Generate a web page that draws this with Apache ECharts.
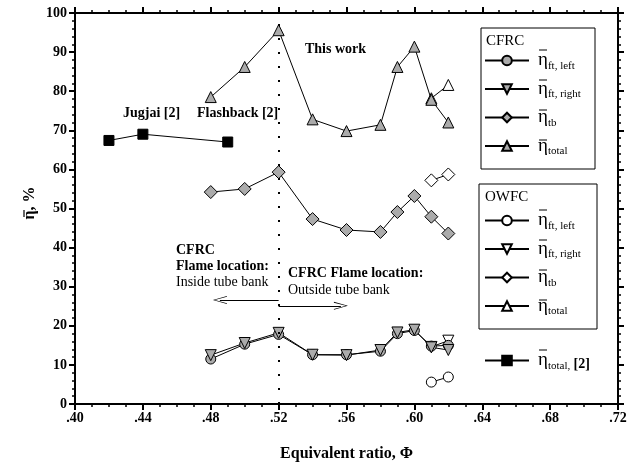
<!DOCTYPE html>
<html>
<head>
<meta charset="utf-8">
<script src="https://cdn.jsdelivr.net/npm/echarts@6/dist/echarts.min.js"></script>
<style>
  html, body { margin: 0; padding: 0; background: #fff; }
  #chart { width: 638px; height: 470px; }
</style>
</head>
<body>
<div id="chart"></div>
<script>
const phiCFRC = [0.48, 0.50, 0.52, 0.54, 0.56, 0.58, 0.59, 0.60, 0.61, 0.62];
const cfrcLeft = [11.5, 15.3, 17.8, 12.6, 12.6, 13.5, 18.0, 18.8, 14.8, 15.0];
const cfrcRight = [12.5, 15.6, 18.2, 12.6, 12.5, 13.8, 18.3, 19.0, 14.5, 13.8];
const cfrcTb = [54.2, 55.0, 59.3, 47.3, 44.5, 44.0, 49.1, 53.2, 47.9, 43.6];
const cfrcTotal = [78.5, 86.2, 95.6, 72.8, 69.8, 71.4, 86.2, 91.4, 77.8, 72.0];

const phiOWFC = [0.61, 0.62];
const owfcLeft = [5.6, 6.9];
const owfcRight = [14.6, 16.2];
const owfcTb = [57.2, 58.7];
const owfcTotal = [78.2, 81.6];

const phiRef = [0.42, 0.44, 0.49];
const refTotal = [67.4, 69.0, 67.0];

const xTicks = [".40", ".44", ".48", ".52", ".56", ".60", ".64", ".68", ".72"];

const SERIF = "Liberation Serif";
const GREY = "#ababab";

const subLabels = {
  CFRC_left: "ft, left", CFRC_right: "ft, right", CFRC_tb: "tb", CFRC_total: "total",
  OWFC_left: "ft, left", OWFC_right: "ft, right", OWFC_tb: "tb", OWFC_total: "total",
};

function pairs(xs, ys) {
  return xs.map((x, i) => [x, ys[i]]);
}

function lineSeries(name, xs, ys, symbol, fill, size, rotate) {
  return {
    name,
    type: "line",
    data: pairs(xs, ys),
    symbol,
    symbolSize: size,
    symbolRotate: rotate || 0,
    showAllSymbol: true,
    lineStyle: { color: "#000", width: 1 },
    itemStyle: { color: fill, borderColor: "#000", borderWidth: 1 },
    emphasis: { disabled: true },
    z: fill === "#fff" ? 2 : 3,
  };
}

const arrowHead = "path://M0,14 L5,0 L10,14 L9,14 L5,2 L1,14 Z";

const chart = echarts.init(document.getElementById("chart"), null, { renderer: "canvas" });

const legendRich = {
  e: { fontFamily: SERIF, fontSize: 19, lineHeight: 22, color: "#000" },
  s: { fontFamily: SERIF, fontSize: 11, lineHeight: 11, verticalAlign: "bottom", color: "#000" },
  b: { fontFamily: SERIF, fontSize: 14, fontWeight: "bold", lineHeight: 11, verticalAlign: "bottom", color: "#000" },
};

const LEGEND_ROW = 30;

function legendBlock(names, top) {
  return {
    data: names,
    orient: "vertical",
    left: 484,
    top,
    padding: 0,
    itemWidth: 44,
    itemHeight: 12,
    itemGap: 8,
    selectedMode: false,
    formatter: (name) => {
      if (name === "Ref") return "{e|\u03B7}{s|total,} {b|[2]}";
      return `{e|\u03B7}{s|${subLabels[name]}}`;
    },
    textStyle: { padding: [0, 0, 0, 4], rich: legendRich },
  };
}

// overbar above each legend eta
function etaBars(firstCenter, count) {
  const out = [];
  for (let i = 0; i < count; i++) {
    const y = firstCenter + i * LEGEND_ROW - 11;
    out.push({ type: "line", shape: { x1: 539, y1: y, x2: 547, y2: y }, style: { stroke: "#000", lineWidth: 1 } });
  }
  return out;
}

const tickLine = { color: "#000", width: 2 };
const minorLine = { color: "#000", width: 1.5 };

// ticks drawn on all four sides (inside ticks do not render here, so they point outward)
function frameAxis(position, min, max, interval, minorSplit, extra) {
  return {
    type: "value", min, max, interval, position,
    axisLine: { show: true, onZero: false, lineStyle: tickLine },
    axisTick: { show: true, length: 6, lineStyle: tickLine },
    minorTick: { show: true, splitNumber: minorSplit, length: 3, lineStyle: minorLine },
    axisLabel: { show: false },
    splitLine: { show: false },
    ...extra,
  };
}

const textStyleBold = { fontFamily: SERIF, fontWeight: "bold", fontSize: 14, fill: "#000" };
const textStylePlain = { fontFamily: SERIF, fontSize: 14, fill: "#000" };

chart.setOption({
  animation: false,
  backgroundColor: "#fff",
  grid: { left: 75, right: 20, top: 13, bottom: 66 },
  xAxis: [
    frameAxis("bottom", 0.40, 0.72, 0.04, 4, {
      axisLabel: {
        show: true,
        margin: 7,
        fontFamily: SERIF, fontWeight: "bold", fontSize: 14, color: "#000",
        formatter: (v) => xTicks[Math.round((v - 0.40) / 0.04)] || "",
      },
      name: "Equivalent ratio, \u03A6",
      nameLocation: "middle",
      nameGap: 42,
      nameTextStyle: { fontFamily: SERIF, fontWeight: "bold", fontSize: 16, color: "#000" },
    }),
    frameAxis("top", 0.40, 0.72, 0.04, 4, {}),
  ],
  yAxis: [
    frameAxis("left", 0, 100, 10, 5, {
      axisLabel: { show: true, margin: 8, fontFamily: SERIF, fontWeight: "bold", fontSize: 14, color: "#000" },
    }),
    frameAxis("right", 0, 100, 10, 5, {}),
  ],
  legend: [
    legendBlock(["CFRC_left", "CFRC_right", "CFRC_tb", "CFRC_total"], 51),
    legendBlock(["OWFC_left", "OWFC_right", "OWFC_tb", "OWFC_total"], 211),
    legendBlock(["Ref"], 351),
  ],
  series: [
    lineSeries("OWFC_left", phiOWFC, owfcLeft, "circle", "#fff", 10),
    lineSeries("OWFC_right", phiOWFC, owfcRight, "triangle", "#fff", 11, 180),
    lineSeries("OWFC_tb", phiOWFC, owfcTb, "diamond", "#fff", 13),
    lineSeries("OWFC_total", phiOWFC, owfcTotal, "triangle", "#fff", 11),
    lineSeries("CFRC_left", phiCFRC, cfrcLeft, "circle", GREY, 10),
    lineSeries("CFRC_right", phiCFRC, cfrcRight, "triangle", GREY, 11, 180),
    lineSeries("CFRC_tb", phiCFRC, cfrcTb, "diamond", GREY, 13),
    {
      ...lineSeries("CFRC_total", phiCFRC, cfrcTotal, "triangle", GREY, 11),
      markLine: {
        silent: true,
        symbol: ["none", "none"],
        label: { show: false },
        lineStyle: { color: "#000", width: 2, type: [2, 12] },
        data: [{ xAxis: 0.52 }],
      },
    },
    {
      ...lineSeries("Ref", phiRef, refTotal, "rect", "#000", 10),
      markLine: {
        silent: true,
        symbol: ["none", arrowHead],
        symbolSize: [8, 14],
        label: { show: false },
        lineStyle: { color: "#000", width: 1, type: "solid" },
        data: [
          [{ coord: [0.52, 26.6] }, { coord: [0.4854, 26.6] }],
          [{ coord: [0.52, 25.1] }, { coord: [0.5567, 25.1] }],
        ],
      },
    },
  ],
  graphic: [
    { type: "rect", shape: { x: 481, y: 28, width: 114, height: 141 }, style: { fill: "none", stroke: "#000", lineWidth: 1 } },
    { type: "rect", shape: { x: 479, y: 184, width: 118, height: 145 }, style: { fill: "none", stroke: "#000", lineWidth: 1 } },
    { type: "text", left: 486, top: 34, style: { text: "CFRC", fontFamily: SERIF, fontSize: 15, fill: "#000" } },
    { type: "text", left: 485, top: 190, style: { text: "OWFC", fontFamily: SERIF, fontSize: 15, fill: "#000" } },
    ...etaBars(61, 4),
    ...etaBars(221, 4),
    ...etaBars(361, 1),
    {
      type: "text", x: 30, y: 203, rotation: Math.PI / 2,
      style: { text: "\u03B7, %", fontFamily: SERIF, fontWeight: "bold", fontSize: 16, fill: "#000", align: "center", verticalAlign: "middle" },
    },
    { type: "line", shape: { x1: 24, y1: 210, x2: 24, y2: 217 }, style: { stroke: "#000", lineWidth: 1.2 } },
    { type: "text", left: 305, top: 42, style: { text: "This work", ...textStyleBold } },
    { type: "text", left: 123, top: 106, style: { text: "Jugjai [2]", ...textStyleBold } },
    { type: "text", left: 197, top: 106, style: { text: "Flashback [2]", ...textStyleBold } },
    { type: "text", left: 176, top: 243, style: { text: "CFRC", ...textStyleBold } },
    { type: "text", left: 176, top: 259, style: { text: "Flame location:", ...textStyleBold } },
    { type: "text", left: 176, top: 275, style: { text: "Inside tube bank", ...textStylePlain } },
    { type: "text", left: 288, top: 266, style: { text: "CFRC Flame location:", ...textStyleBold } },
    { type: "text", left: 288, top: 283, style: { text: "Outside tube bank", ...textStylePlain } },
  ],
});
</script>
</body>
</html>
